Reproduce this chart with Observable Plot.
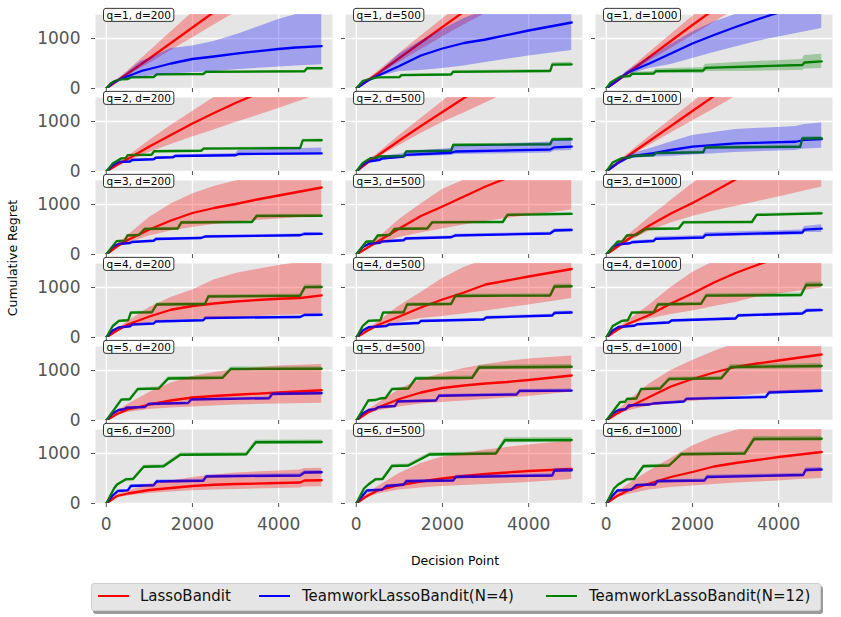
<!DOCTYPE html>
<html><head><meta charset="utf-8">
<script src="https://cdn.jsdelivr.net/npm/d3@7"></script>
<script src="https://cdn.jsdelivr.net/npm/@observablehq/plot@0.6"></script>
<style>
body{margin:0;background:#fff;font-family:"DejaVu Sans",sans-serif;}
#wrap{position:relative;width:841px;height:617px;overflow:hidden;background:#fff;}
#wrap svg{display:block;position:absolute;left:0;top:0;}
.lab{position:absolute;font-size:12.5px;color:#000;white-space:nowrap;}
#legend{position:absolute;left:91px;top:583px;width:728px;height:26px;background:#e5e5e5;border:1px solid #cfcfcf;border-radius:3px;box-shadow:2px 3px 0 #9a9a9a;}
#legend .ln{position:absolute;top:11px;height:2px;width:31px;}
#legend .tx{position:absolute;top:0;line-height:25px;font-size:15px;color:#111;white-space:nowrap;}
</style></head><body><div id="wrap"></div>
<script>
// facets: [q, d]
const PANELS = [[1,200],[1,500],[1,1000],[2,200],[2,500],[2,1000],[3,200],[3,500],[3,1000],
                [4,200],[4,500],[4,1000],[5,200],[5,500],[5,1000],[6,200],[6,500],[6,1000]];
const SERIES_NAMES = ["LassoBandit","TeamworkLassoBandit(N=4)","TeamworkLassoBandit(N=12)"];
const SERIES_COLORS = ["#ff0000","#0000ff","#008000"];
const X_TICKS = [0,2000,4000];
const Y_TICKS = [0,1000];

// each point: [decision point, mean regret, band low, band high]
const RED = [
 [[0,0,0,0],[250,150,135,170],[500,300,260,350],[1000,600,500,740],[1500,910,760,1130],[2000,1220,1010,1520],[2500,1530,1270,1900],[3000,1840,1520,2280],[4000,2450,2030,3050],[5000,3060,2540,3800]],
 [[0,0,0,0],[250,150,130,170],[500,300,260,340],[1000,610,520,700],[1500,920,780,1050],[2000,1230,1030,1390],[2500,1540,1270,1730],[3000,1850,1500,2080],[4000,2460,1960,2770],[5000,3070,2420,3460]],
 [[0,0,0,0],[250,150,130,170],[500,310,270,350],[1000,630,540,720],[1500,950,800,1080],[2000,1270,1060,1440],[2500,1580,1320,1800],[3000,1900,1580,2160],[4000,2530,2100,2880],[5000,3160,2620,3600]],
 [[0,0,0,0],[250,130,115,150],[500,250,200,300],[1000,500,380,620],[1500,730,540,920],[2000,960,690,1200],[2500,1170,830,1480],[3000,1370,980,1720],[3300,1480,1060,1850],[4000,1740,1260,2150],[5000,2100,1560,2600]],
 [[0,0,0,0],[250,170,150,190],[500,320,280,360],[1000,620,520,720],[1500,910,760,1060],[2000,1190,980,1400],[2500,1470,1170,1750],[3000,1740,1370,2100],[4000,2300,1780,2800],[5000,2850,2200,3500]],
 [[0,0,0,0],[250,160,140,180],[500,310,270,350],[1000,610,520,700],[1500,910,770,1040],[2000,1210,1010,1380],[2500,1510,1250,1720],[3000,1810,1500,2060],[4000,2400,1980,2740],[5000,3000,2460,3420]],
 [[0,0,0,0],[250,160,130,190],[500,290,230,380],[1000,500,370,740],[1500,680,470,1010],[2000,830,540,1210],[2500,930,600,1360],[3000,1010,640,1470],[3500,1100,680,1560],[4000,1180,710,1620],[4500,1260,740,1670],[5000,1340,760,1700]],
 [[0,0,0,0],[250,130,110,150],[500,260,200,320],[1000,520,340,700],[1500,770,430,1010],[2000,960,510,1300],[2500,1160,590,1490],[3000,1360,660,1700],[3500,1530,720,1900],[4000,1700,780,2100],[5000,2020,890,2400]],
 [[0,0,0,0],[250,150,140,180],[500,300,250,380],[1000,580,470,740],[1500,820,630,1080],[2000,1030,760,1420],[2500,1260,870,1700],[3000,1500,960,2000],[4000,1960,1150,2600],[5000,2400,1350,3200]],
 [[0,0,0,0],[250,140,120,165],[500,260,210,320],[1000,420,300,600],[1500,555,350,800],[2000,630,360,950],[2500,680,380,1150],[3000,720,400,1280],[3500,750,420,1360],[4000,775,440,1440],[4500,790,455,1500],[5000,844,480,1550]],
 [[0,0,0,0],[250,130,110,150],[500,250,200,310],[1000,420,300,630],[1500,600,380,900],[2000,760,420,1180],[2500,900,470,1400],[3000,1060,530,1560],[4000,1220,650,1800],[5000,1370,780,2000]],
 [[0,0,0,0],[250,150,130,170],[500,270,230,330],[1000,450,370,650],[1500,680,460,1000],[2000,880,530,1300],[2500,1100,620,1520],[3000,1290,700,1700],[3500,1450,810,1850],[4000,1600,870,2000],[5000,1850,990,2300]],
 [[0,0,0,0],[250,130,100,180],[500,220,160,320],[1000,320,220,560],[1500,400,250,750],[2000,460,270,880],[2500,490,290,960],[3000,515,310,1020],[4000,560,330,1090],[5000,605,345,1120]],
 [[0,0,0,0],[250,150,120,190],[500,260,190,340],[1000,430,270,620],[1500,560,330,820],[2000,650,360,940],[2500,700,390,1040],[3000,740,420,1120],[3500,770,450,1180],[4000,810,480,1230],[5000,900,570,1290]],
 [[0,0,0,0],[250,140,110,180],[500,260,190,380],[1000,470,290,730],[1500,680,340,1000],[2000,830,380,1200],[2500,960,430,1380],[3000,1070,480,1540],[3500,1140,520,1680],[4000,1200,560,1800],[5000,1320,610,2000]],
 [[0,0,0,0],[250,150,110,180],[500,200,150,250],[1000,270,200,380],[1500,310,230,450],[2000,350,255,520],[2500,375,270,570],[3000,390,280,610],[4000,410,300,650],[4500,420,310,670],[4600,460,330,700],[5000,465,335,705]],
 [[0,0,0,0],[250,150,110,190],[500,260,190,340],[1000,370,270,600],[1500,440,310,800],[2000,500,340,930],[2500,550,360,1000],[3000,590,380,1070],[3500,620,400,1120],[4000,650,420,1170],[4500,670,450,1210],[5000,690,480,1250]],
 [[0,0,0,0],[250,150,110,200],[500,260,180,380],[1000,400,270,650],[1500,530,320,900],[2000,630,350,1150],[2500,740,380,1330],[3000,810,410,1460],[3500,870,430,1560],[4000,930,450,1640],[4500,980,480,1700],[5000,1030,500,1750]]
];
const BLUE = [
 [[0,0,0,0],[150,110,100,120],[350,196,170,230],[800,346,230,540],[1000,390,245,600],[1500,500,290,800],[2000,590,315,850],[2500,640,340,940],[3100,706,379,1098],[4000,790,430,1380],[4400,820,450,1480],[5000,849,477,1560]],
 [[0,0,0,0],[250,150,140,165],[500,255,230,290],[1000,450,340,690],[1500,660,360,950],[2000,800,400,1180],[2500,910,450,1400],[3000,980,520,1560],[4000,1160,650,1800],[5000,1320,760,2000]],
 [[0,0,0,0],[250,160,140,175],[500,320,270,360],[1000,500,400,620],[1500,700,480,880],[2000,900,600,1130],[2500,1070,720,1330],[3000,1230,830,1480],[3500,1380,940,1600],[4000,1520,1030,1700],[5000,1750,1200,1900]],
 [[0,0,0,0],[150,120,110,130],[300,190,175,205],[550,200,185,215],[600,230,214,246],[1100,245,228,262],[1150,275,258,292],[1550,285,267,303],[1600,310,290,330],[3000,325,300,360],[3070,350,320,420],[5000,362,330,470]],
 [[0,0,0,0],[150,130,120,140],[290,200,180,220],[550,235,205,265],[600,260,230,300],[1100,300,260,360],[1150,334,290,400],[2200,375,320,460],[2300,400,340,500],[4500,440,370,590],[4600,484,410,620],[5000,497,420,640]],
 [[0,0,0,0],[250,160,140,180],[550,300,260,340],[1100,366,290,480],[1500,430,300,590],[2000,497,330,720],[3000,562,380,840],[4400,595,420,900],[4600,635,450,940],[5000,647,464,968]],
 [[0,0,0,0],[150,150,140,160],[290,210,195,225],[550,230,215,245],[600,250,235,265],[1100,275,258,292],[1150,310,292,328],[2200,330,310,350],[2300,360,338,382],[4500,385,360,410],[4600,410,385,440],[5000,412,387,442]],
 [[0,0,0,0],[150,150,140,160],[290,210,195,225],[550,235,220,250],[600,260,243,277],[1100,285,265,305],[1150,320,300,340],[2200,345,322,368],[2300,380,355,405],[4500,420,393,447],[4600,480,450,510],[5000,490,460,520]],
 [[0,0,0,0],[150,150,140,160],[290,203,185,220],[550,225,205,245],[600,245,222,268],[1100,270,240,300],[1150,314,280,350],[2250,340,300,380],[2300,392,350,435],[4550,440,390,490],[4600,497,440,560],[5000,517,440,595]],
 [[0,0,0,0],[150,140,130,150],[290,200,188,212],[550,225,212,238],[600,260,245,275],[1100,280,264,296],[1150,320,302,338],[2250,345,326,364],[2300,390,370,410],[4500,410,390,430],[4600,450,428,472],[5000,455,433,477]],
 [[0,0,0,0],[150,140,130,150],[290,205,192,218],[700,230,215,245],[760,260,244,276],[1450,290,272,308],[1500,330,310,350],[2950,360,338,382],[3020,400,376,424],[4550,440,414,466],[4600,490,462,518],[5000,500,472,528]],
 [[0,0,0,0],[150,140,130,150],[290,210,197,223],[650,235,220,250],[720,265,249,281],[1450,300,282,318],[1520,340,320,360],[3000,380,357,403],[3060,440,415,465],[4550,480,453,507],[4650,540,510,570],[5000,548,518,578]],
 [[0,0,0,0],[150,140,130,150],[290,210,197,223],[420,225,211,239],[470,255,240,270],[900,270,254,286],[980,330,311,349],[1900,350,330,370],[1970,420,398,442],[3780,445,422,468],[3850,530,505,555],[5000,545,518,572]],
 [[0,0,0,0],[150,140,130,150],[290,210,197,223],[450,225,211,239],[500,265,250,280],[900,290,273,307],[960,380,360,400],[1850,400,378,422],[1920,495,470,520],[3720,520,494,546],[3790,590,560,620],[5000,598,565,630]],
 [[0,0,0,0],[150,140,130,150],[290,210,197,223],[450,225,211,239],[520,300,283,317],[1000,320,302,338],[1100,340,321,359],[1800,380,359,401],[1860,432,409,455],[3700,470,446,494],[3780,560,532,588],[5000,595,565,625]],
 [[0,0,0,0],[150,160,145,175],[270,250,232,268],[500,262,243,281],[570,350,326,374],[1100,365,340,390],[1170,440,412,468],[2250,455,426,484],[2320,540,508,572],[4500,560,527,593],[4600,620,585,655],[5000,625,590,660]],
 [[0,0,0,0],[150,160,145,175],[250,260,242,278],[600,275,256,294],[700,350,326,374],[1100,375,350,400],[1160,445,416,474],[2250,460,430,490],[2310,530,497,563],[4550,560,526,594],[4600,660,620,700],[5000,665,625,705]],
 [[0,0,0,0],[150,160,145,175],[260,260,242,278],[580,275,256,294],[700,366,340,392],[1130,380,354,406],[1190,445,416,474],[2280,460,430,490],[2340,530,497,563],[4570,570,535,605],[4630,670,630,710],[5000,680,640,720]]
];
const GREEN = [
 [[0,0,0,0],[100,100,90,110],[200,150,138,162],[345,183,170,196],[500,190,177,203],[575,222,208,236],[1100,230,215,245],[1175,281,265,297],[2250,290,274,306],[2315,333,316,350],[4600,345,328,362],[4660,405,385,425],[5000,405,385,425]],
 [[0,0,0,0],[150,150,140,160],[350,200,188,212],[500,222,208,236],[1000,228,212,244],[1050,268,250,286],[2200,280,258,302],[2250,334,308,360],[4500,350,320,380],[4550,477,440,514],[5000,484,445,523]],
 [[0,0,0,0],[100,120,110,130],[330,235,215,255],[550,250,225,275],[600,294,265,323],[1100,300,260,340],[1150,346,300,392],[2250,360,300,420],[2300,412,340,484],[3550,445,347,543],[4550,470,360,580],[4600,520,390,660],[5000,543,398,686]],
 [[0,0,0,0],[150,160,148,172],[345,261,247,275],[450,265,251,279],[500,327,312,342],[1050,335,320,350],[1112,405,389,421],[2200,415,398,432],[2261,457,439,475],[4500,470,450,490],[4560,621,598,644],[5000,625,602,648]],
 [[0,0,0,0],[150,170,158,182],[340,268,254,282],[480,275,260,290],[520,300,284,316],[1100,310,292,328],[1160,400,380,420],[2200,415,393,437],[2250,530,505,555],[4500,545,518,572],[4550,640,608,672],[5000,645,612,678]],
 [[0,0,0,0],[150,180,166,194],[370,268,252,284],[550,280,263,297],[600,310,292,328],[1100,325,305,345],[1150,366,344,388],[2250,385,360,410],[2300,480,452,508],[4500,495,465,525],[4550,660,625,695],[5000,665,630,700]],
 [[0,0,0,0],[240,268,255,281],[430,275,261,289],[490,380,362,398],[760,390,371,409],[890,510,488,532],[1660,520,497,543],[1740,640,615,665],[3380,650,624,676],[3490,770,742,798],[5000,775,747,803]],
 [[0,0,0,0],[230,255,242,268],[400,265,251,279],[500,380,362,398],[776,390,371,409],[885,510,488,532],[1650,520,497,543],[1760,641,615,667],[3400,650,623,677],[3510,791,762,820],[5000,811,780,842]],
 [[0,0,0,0],[260,255,242,268],[370,262,248,276],[480,380,362,398],[700,390,371,409],[920,510,489,531],[1680,520,498,542],[1790,641,618,664],[3380,650,626,674],[3490,791,765,817],[5000,824,798,850]],
 [[0,0,0,0],[150,230,218,242],[295,334,318,350],[510,345,328,362],[570,497,475,519],[1060,505,482,528],[1170,660,632,688],[2290,670,641,699],[2370,820,788,852],[4500,835,800,870],[4610,1007,965,1049],[5000,1010,968,1052]],
 [[0,0,0,0],[150,230,218,242],[284,334,318,350],[560,345,328,362],[620,497,475,519],[1100,505,482,528],[1180,660,632,688],[2200,670,641,699],[2300,830,796,864],[4500,840,804,876],[4600,1020,975,1065],[5000,1025,980,1070]],
 [[0,0,0,0],[150,230,218,242],[370,334,318,350],[500,345,328,362],[590,497,475,519],[1100,505,480,530],[1200,660,630,690],[2200,675,643,707],[2320,837,800,874],[4520,850,808,892],[4640,1050,995,1105],[5000,1055,1000,1110]],
 [[0,0,0,0],[350,419,400,438],[545,425,404,446],[730,628,600,656],[1220,640,610,670],[1440,840,805,875],[2700,855,818,892],[2890,1030,990,1070],[5000,1035,995,1075]],
 [[0,0,0,0],[280,400,382,418],[450,410,390,430],[560,440,420,460],[680,450,428,472],[830,628,600,656],[1210,640,610,670],[1380,840,805,875],[2690,855,818,892],[2850,1060,1015,1105],[5000,1075,1030,1120]],
 [[0,0,0,0],[320,366,350,382],[440,375,358,392],[480,430,411,449],[700,440,420,460],[810,628,600,656],[1250,640,610,670],[1460,830,795,865],[2670,845,808,882],[2890,1070,1020,1120],[5000,1090,1040,1140]],
 [[0,0,0,0],[180,300,286,314],[250,380,364,396],[460,484,464,504],[620,490,469,511],[870,735,706,764],[1330,745,715,775],[1720,975,940,1010],[3250,985,949,1021],[3470,1225,1185,1265],[5000,1230,1190,1270]],
 [[0,0,0,0],[180,300,286,314],[280,380,364,396],[450,484,464,504],[610,490,469,511],[830,750,720,780],[1210,760,729,791],[1700,980,945,1015],[3240,1000,963,1037],[3450,1265,1215,1315],[5000,1270,1220,1320]],
 [[0,0,0,0],[180,300,286,314],[280,380,364,396],[480,484,464,504],[645,490,469,511],[860,745,716,774],[1460,760,729,791],[1740,985,950,1020],[3210,1000,964,1036],[3430,1290,1240,1340],[5000,1295,1245,1345]]
];

// build a tidy table from the arrays
const rows = [];
[RED, BLUE, GREEN].forEach((S, si) => S.forEach((pts, pi) => {
  const [q, d] = PANELS[pi];
  pts.forEach(([x, y, lo, hi]) => rows.push({s: SERIES_NAMES[si], q, d, x, y, lo, hi}));
}));
const labels = PANELS.map(([q, d]) => ({q, d, label: `q=${q}, d=${d}`}));

const plot = Plot.plot({
  width: 841, height: 548,
  marginLeft: 94, marginRight: 8, marginTop: 11, marginBottom: 42,
  x: {domain: [-250, 5250], axis: null},
  y: {domain: [0, 1480], axis: null},
  fx: {domain: [200, 500, 1000], paddingInner: 0.054, paddingOuter: 0, axis: null},
  fy: {domain: [1, 2, 3, 4, 5, 6], paddingInner: 0.104, paddingOuter: 0, axis: null},
  color: {domain: SERIES_NAMES, range: SERIES_COLORS},
  style: {fontFamily: "DejaVu Sans", background: "white", overflow: "visible"},
  marks: [
    Plot.frame({fill: "#e5e5e5", stroke: "none"}),
    Plot.gridX(X_TICKS, {stroke: "white", strokeOpacity: 1, strokeWidth: 1.3}),
    Plot.gridY(Y_TICKS, {stroke: "white", strokeOpacity: 1, strokeWidth: 1.3}),
    Plot.lineY(rows, {fx: "d", fy: "q", x: "x", y: "y", z: "s", stroke: "s", strokeWidth: 2.3, clip: true}),
    Plot.areaY(rows, {fx: "d", fy: "q", x: "x", y1: "lo", y2: "hi", z: "s", fill: "s", fillOpacity: 0.3, clip: true}),
    Plot.axisX(X_TICKS, {facetAnchor: null, tickSize: 4, tickFormat: () => "", label: null, stroke: "#555"}),
    Plot.axisY(Y_TICKS, {facetAnchor: null, tickSize: 4, tickFormat: () => "", label: null, stroke: "#555"}),
    Plot.axisX(X_TICKS, {tickSize: 0, tickPadding: 14, fontSize: 17, fill: "#555", label: null, tickFormat: d => String(d)}),
    Plot.axisY(Y_TICKS, {tickSize: 0, tickPadding: 15, fontSize: 17, fill: "#555", label: null, tickFormat: d => String(d)}),
    Plot.text(labels, {fx: "d", fy: "q", text: "label", frameAnchor: "top-left", dx: 11, dy: 1,
      lineAnchor: "middle", fontSize: 10.5, fill: "black"})
  ]
});

const wrap = document.getElementById("wrap");
wrap.appendChild(plot);

// boxed facet labels
d3.select(plot).selectAll("text")
  .filter(function () { return /^q=\d, d=\d+$/.test(this.textContent); })
  .each(function () {
    const b = this.getBBox();
    const t = this.getAttribute("transform");
    const rect = document.createElementNS("http://www.w3.org/2000/svg", "rect");
    rect.setAttribute("x", b.x - 3);
    rect.setAttribute("y", b.y - 0.5);
    rect.setAttribute("width", b.width + 6);
    rect.setAttribute("height", b.height + 1);
    rect.setAttribute("rx", 2.5);
    rect.setAttribute("fill", "white");
    rect.setAttribute("stroke", "black");
    rect.setAttribute("stroke-width", 0.8);
    if (t) rect.setAttribute("transform", t);
    this.parentNode.insertBefore(rect, this);
  });

// axis titles
const xl = document.createElement("div");
xl.className = "lab"; xl.textContent = "Decision Point";
xl.style.left = "455px"; xl.style.top = "560px"; xl.style.transform = "translate(-50%,-50%)";
wrap.appendChild(xl);
const yl = document.createElement("div");
yl.className = "lab"; yl.textContent = "Cumulative Regret";
yl.style.left = "12px"; yl.style.top = "258px"; yl.style.transform = "translate(-50%,-50%) rotate(-90deg)";
wrap.appendChild(yl);

// legend
const lg = document.createElement("div");
lg.id = "legend";
const LINE_LEFT = [6, 167, 454], TEXT_LEFT = [48, 210, 497];
SERIES_NAMES.forEach((name, i) => {
  const ln = document.createElement("div");
  ln.className = "ln"; ln.style.left = LINE_LEFT[i] + "px"; ln.style.background = SERIES_COLORS[i];
  const tx = document.createElement("div");
  tx.className = "tx"; tx.style.left = TEXT_LEFT[i] + "px"; tx.textContent = name;
  lg.appendChild(ln); lg.appendChild(tx);
});
wrap.appendChild(lg);
</script></body></html>
